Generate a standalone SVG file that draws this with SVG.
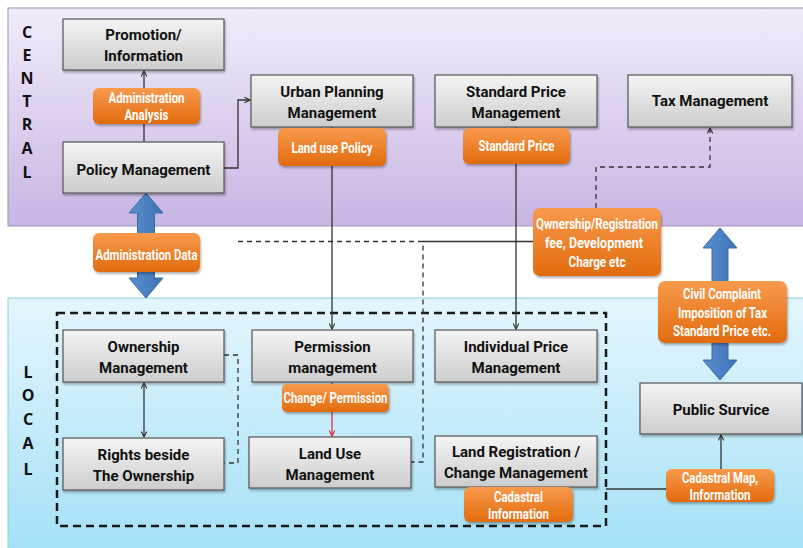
<svg xmlns="http://www.w3.org/2000/svg" width="803" height="548" viewBox="0 0 803 548">
<defs>
<linearGradient id="gPurple" x1="0" y1="0" x2="0" y2="1"><stop offset="0" stop-color="#f1ecfa"/><stop offset="1" stop-color="#c8b5e3"/></linearGradient>
<linearGradient id="gBlue" x1="0" y1="0" x2="0" y2="1"><stop offset="0" stop-color="#e4f6fd"/><stop offset="1" stop-color="#a3e0f6"/></linearGradient>
<linearGradient id="gNode" x1="0" y1="0" x2="0" y2="1"><stop offset="0" stop-color="#f4f4f4"/><stop offset="1" stop-color="#cdcdcd"/></linearGradient>
<linearGradient id="gOrange" x1="0" y1="0" x2="0" y2="1"><stop offset="0" stop-color="#f89a4c"/><stop offset="1" stop-color="#e26b0e"/></linearGradient>
<linearGradient id="gArrow" x1="0" y1="0" x2="1" y2="0"><stop offset="0" stop-color="#5a8fd0"/><stop offset="1" stop-color="#3e72b4"/></linearGradient>
<filter id="sh" x="-10%" y="-10%" width="120%" height="130%"><feDropShadow dx="1" dy="2" stdDeviation="1.2" flood-color="#000" flood-opacity="0.3"/></filter>
<marker id="arr" viewBox="0 0 10 10" refX="9" refY="5" markerWidth="7" markerHeight="7" orient="auto-start-reverse" markerUnits="userSpaceOnUse"><path d="M1,1 L9,5 L1,9" fill="none" stroke="#333" stroke-width="1.6"/></marker>
<marker id="arrR" viewBox="0 0 10 10" refX="9" refY="5" markerWidth="7" markerHeight="7" orient="auto" markerUnits="userSpaceOnUse"><path d="M1,1 L9,5 L1,9" fill="none" stroke="#e0202a" stroke-width="1.6"/></marker>
</defs>
<style>
.node rect{fill:url(#gNode);stroke:#555;stroke-width:1.2;filter:url(#sh)}
.node text{font-family:Roboto,"Liberation Sans",sans-serif;font-weight:bold;font-size:15px;fill:#111;text-anchor:middle}
.lab rect{fill:url(#gOrange);stroke:none;filter:url(#sh)}
.lab text{font-family:Roboto,"Liberation Sans",sans-serif;font-weight:bold;font-size:14px;fill:#fff;text-anchor:middle}
.side{font-family:"Open Sans","Liberation Sans",sans-serif;font-weight:bold;font-size:16px;fill:#111;text-anchor:middle}
.ln{fill:none;stroke:#333;stroke-width:1.3}
.dl{fill:none;stroke:#333;stroke-width:1.3;stroke-dasharray:5 4}
.big{fill:url(#gArrow);stroke:#3a6aa6;stroke-width:1}
</style>
<rect x="0" y="0" width="803" height="548" fill="#fff"/>
<rect x="8" y="8" width="805" height="218" fill="url(#gPurple)" stroke="#a094b8" stroke-width="1"/>
<rect x="8" y="298" width="805" height="260" fill="url(#gBlue)" stroke="#86cfe2" stroke-width="1"/>
<g id="central-label"><text class="side" x="27" y="38">C</text><text class="side" x="27" y="61">E</text><text class="side" x="27" y="84">N</text><text class="side" x="27" y="107">T</text><text class="side" x="27" y="130">R</text><text class="side" x="27" y="154">A</text><text class="side" x="27" y="178">L</text></g>
<g id="local-label"><text class="side" x="28" y="378">L</text><text class="side" x="28" y="401">O</text><text class="side" x="28" y="425">C</text><text class="side" x="28" y="449">A</text><text class="side" x="28" y="475">L</text></g>
<rect id="local-group" x="57" y="313" width="549" height="213" fill="none" stroke="#1a1a1a" stroke-width="2.5" stroke-dasharray="8 5"/>
<g id="big-arrows">
<path class="big" d="M146,193 L163,213 L154.5,213 L154.5,278 L163,278 L146,298 L129,278 L137.5,278 L137.5,213 L129,213 Z"/>
<path class="big" d="M720,228 L737,248 L728,248 L728,360 L737,360 L720,380 L703,360 L712,360 L712,248 L703,248 Z"/>
</g>
<g id="connectors">
<path class="ln" d="M144,142 V71" marker-end="url(#arr)"/>
<path class="ln" d="M224,168 H238 V100 H250" marker-end="url(#arr)"/>
<path class="ln" d="M332,127 V329" marker-end="url(#arr)"/>
<path class="ln" d="M516,127 V329" marker-end="url(#arr)"/>
<path class="dl" d="M596,208 V167 H710 V128" marker-end="url(#arr)"/>
<path class="ln" d="M423,241.5 H533"/>
<path class="dl" d="M238,241.5 H423 V462 H411"/>
<path class="dl" d="M224,355 H238 V463 H224"/>
<path class="ln" d="M144,383 V437" marker-start="url(#arr)" marker-end="url(#arr)"/>
<path d="M332,382 V436" fill="none" stroke="#e0202a" stroke-width="1.2" marker-end="url(#arrR)"/>
<path class="ln" d="M606,489 H666"/>
<path class="ln" d="M721,469 V435" marker-end="url(#arr)"/>
</g>
<g id="n-promotion" class="node"><rect x="63" y="19" width="161" height="51"/><text x="143.5" y="40">Promotion/</text><text x="143.5" y="61">Information</text></g>
<g id="n-policy" class="node"><rect x="63" y="142" width="161" height="51"/><text x="143.5" y="175">Policy Management</text></g>
<g id="n-urban" class="node"><rect x="251" y="75" width="162" height="52"/><text x="332" y="97">Urban Planning</text><text x="332" y="118">Management</text></g>
<g id="n-stdprice" class="node"><rect x="435" y="75" width="162" height="52"/><text x="516" y="97">Standard Price</text><text x="516" y="118">Management</text></g>
<g id="n-tax" class="node"><rect x="628" y="75" width="164" height="52"/><text x="710" y="106">Tax Management</text></g>
<g id="n-ownership" class="node"><rect x="63" y="330" width="161" height="52"/><text x="143.5" y="352">Ownership</text><text x="143.5" y="373">Management</text></g>
<g id="n-rights" class="node"><rect x="63" y="438" width="161" height="52"/><text x="143.5" y="460">Rights beside</text><text x="143.5" y="481">The Ownership</text></g>
<g id="n-permission" class="node"><rect x="252" y="330" width="161" height="52"/><text x="332.5" y="352">Permission</text><text x="332.5" y="373">management</text></g>
<g id="n-landuse" class="node"><rect x="249" y="437" width="162" height="51"/><text x="330" y="459">Land Use</text><text x="330" y="480">Management</text></g>
<g id="n-indprice" class="node"><rect x="435" y="330" width="162" height="52"/><text x="516" y="352">Individual Price</text><text x="516" y="373">Management</text></g>
<g id="n-landreg" class="node"><rect x="435" y="436" width="162" height="51"/><text x="516" y="457">Land Registration /</text><text x="516" y="478">Change Management</text></g>
<g id="n-public" class="node"><rect x="640" y="383" width="162" height="51"/><text x="721" y="415">Public Survice</text></g>
<g id="l-adminanalysis" class="lab"><rect x="93" y="88" width="107" height="36" rx="6"/><text x="146.5" y="103" textLength="76" lengthAdjust="spacingAndGlyphs">Administration</text><text x="146.5" y="120" textLength="44" lengthAdjust="spacingAndGlyphs">Analysis</text></g>
<g id="l-landusepolicy" class="lab"><rect x="278" y="128" width="108" height="38" rx="6"/><text x="332" y="153" textLength="81" lengthAdjust="spacingAndGlyphs">Land use Policy</text></g>
<g id="l-stdprice" class="lab"><rect x="463" y="128" width="107" height="36" rx="6"/><text x="516.5" y="151" textLength="76" lengthAdjust="spacingAndGlyphs">Standard Price</text></g>
<g id="l-fee" class="lab"><rect x="533" y="208" width="128" height="68" rx="7"/><text x="597" y="229" textLength="122" lengthAdjust="spacingAndGlyphs">Qwnership/Registration</text><text x="594" y="248" textLength="98" lengthAdjust="spacingAndGlyphs">fee,  Development</text><text x="597" y="267" textLength="57" lengthAdjust="spacingAndGlyphs">Charge etc</text></g>
<g id="l-admindata" class="lab"><rect x="93" y="233" width="107" height="39" rx="6"/><text x="146.5" y="260" textLength="102" lengthAdjust="spacingAndGlyphs">Administration Data</text></g>
<g id="l-civil" class="lab"><rect x="658" y="281" width="129" height="62" rx="7"/><text x="722" y="299" textLength="78" lengthAdjust="spacingAndGlyphs">Civil Complaint</text><text x="722.5" y="318" textLength="89" lengthAdjust="spacingAndGlyphs">Imposition of Tax</text><text x="722" y="336" textLength="98" lengthAdjust="spacingAndGlyphs">Standard Price etc.</text></g>
<g id="l-change" class="lab"><rect x="282" y="384" width="107" height="28" rx="5"/><text x="335.5" y="403" textLength="104" lengthAdjust="spacingAndGlyphs">Change/ Permission</text></g>
<g id="l-cadinfo" class="lab"><rect x="464" y="487" width="109" height="35" rx="6"/><text x="518.5" y="502" textLength="49" lengthAdjust="spacingAndGlyphs">Cadastral</text><text x="518.5" y="519" textLength="61" lengthAdjust="spacingAndGlyphs">Information</text></g>
<g id="l-cadmap" class="lab"><rect x="666" y="469" width="108" height="33" rx="6"/><text x="720" y="483" textLength="76" lengthAdjust="spacingAndGlyphs">Cadastral Map,</text><text x="720" y="500" textLength="61" lengthAdjust="spacingAndGlyphs">Information</text></g>
</svg>
